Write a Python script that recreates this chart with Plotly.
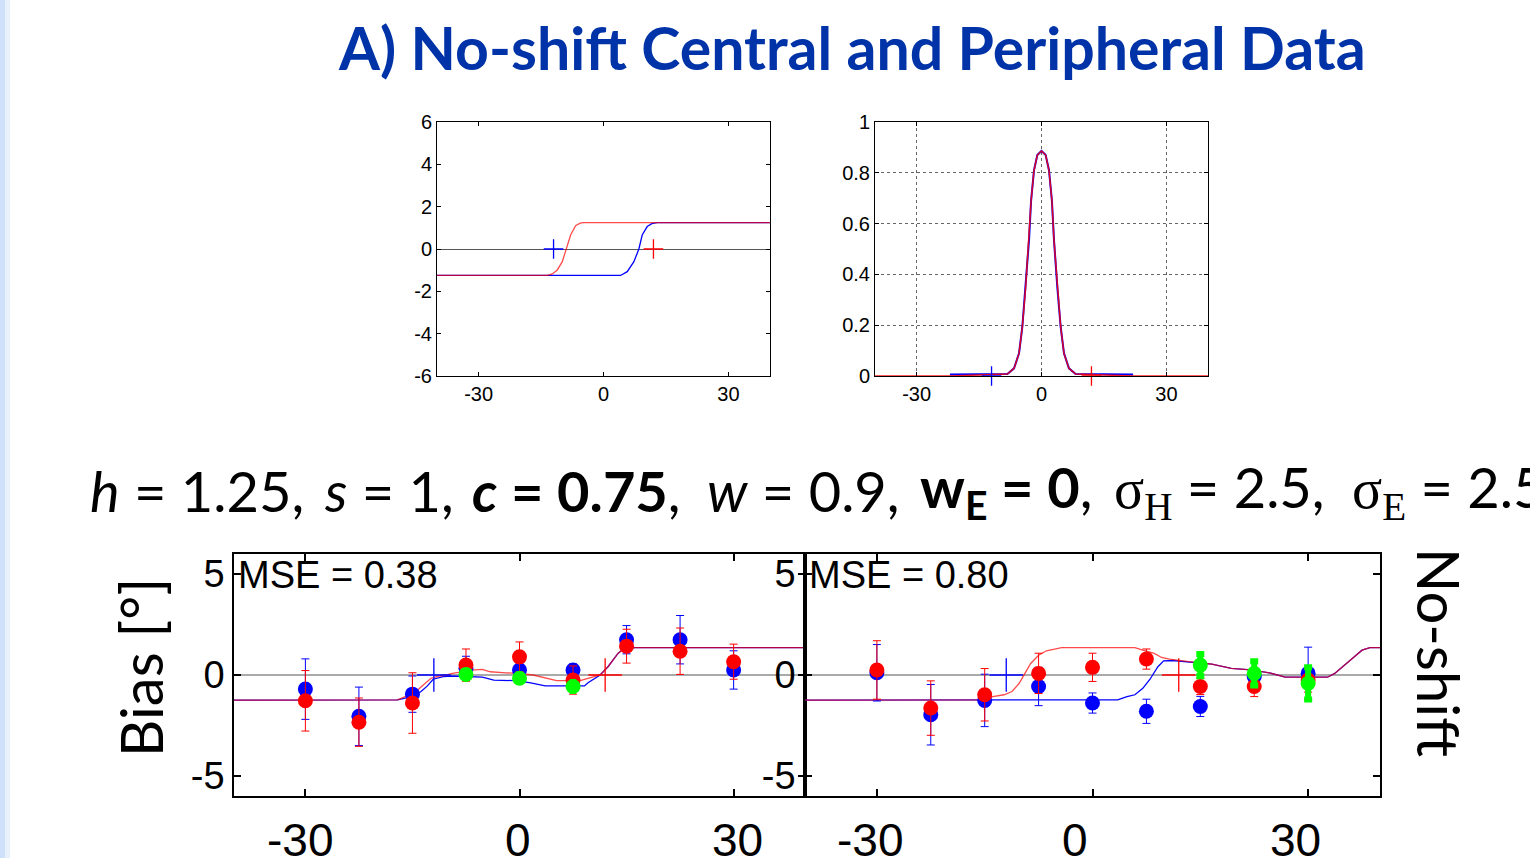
import plotly.graph_objects as go

W, H = 1530, 858

# ---------------- data ----------------
# top-left: model bias curves
tl_red_x = [-40, -13.5, -12.3, -11.1, -9.9, -9.0, -7.9, -6.7, -5.6, -4.8, 40]
tl_red_y = [-1.25, -1.25, -1.18, -0.99, -0.6, 0.0, 0.66, 1.1, 1.22, 1.25, 1.25]
tl_blue_x = [-40, 4.1, 5.7, 7.3, 8.5, 9.3, 10.5, 11.6, 12.9, 40]
tl_blue_y = [-1.25, -1.25, -1.07, -0.6, 0.0, 0.66, 1.06, 1.2, 1.25, 1.25]

# top-right: weighting curves
tr_red_x = [-40, -22, -8.2, -6.6, -5.4, -4.6, -3.8, -3.0, -2.5, -1.8, -1.0, 0,
            1.0, 1.8, 2.5, 3.0, 3.8, 4.6, 5.4, 6.6, 8.2, 22, 40]
tr_red_y = [0.0, 0.0, 0.008, 0.03, 0.089, 0.194, 0.35, 0.535, 0.69, 0.81, 0.87, 0.886,
            0.87, 0.81, 0.69, 0.535, 0.35, 0.194, 0.089, 0.03, 0.008, 0.0, 0.0]
tr_blue_x = [-22, -8.2, -6.6, -5.4, -4.6, -3.8, -3.0, -2.5, -1.8, -1.0, 0,
             1.0, 1.8, 2.5, 3.0, 3.8, 4.6, 5.4, 6.6, 8.2, 22]
tr_blue_y = [0.006, 0.008, 0.03, 0.089, 0.194, 0.35, 0.535, 0.69, 0.81, 0.87, 0.886,
             0.87, 0.81, 0.69, 0.535, 0.35, 0.194, 0.089, 0.03, 0.008, 0.006]

ref_marks_x = [-12, 12]

targets = [-30, -22.5, -15, -7.5, 0, 7.5, 15, 22.5, 30]

# bottom-left: central + peripheral data
bl_blue = [-0.70, -2.05, -0.95, 0.33, 0.25, 0.25, 1.75, 1.75, 0.25]
bl_blue_err = [1.5, 1.45, 0.9, 0.6, 0.3, 0.3, 0.7, 1.2, 0.95]
bl_red = [-1.28, -2.34, -1.39, 0.49, 0.90, -0.25, 1.43, 1.18, 0.66]
bl_red_err = [1.5, 1.2, 1.5, 0.8, 0.74, 0.7, 0.84, 1.15, 0.87]
bl_green_x = [-7.5, 0, 7.5]
bl_green = [0.03, -0.16, -0.57]
bl_green_err = [0.15, 0.15, 0.3]

bl_mred_x = [-40, -17.1, -16, -14.9, -14, -13.2, -12.4, -11.3, -10.2, -9.4, -8, -6.3, -5.2,
             -4.1, -1.9, -0.3, 1.9, 3.6, 5.2, 8.5, 9.6, 11.3, 12.4, 13.8, 14.6, 16.2, 40]
bl_mred_y = [-1.25, -1.23, -1.07, -0.98, -0.66, -0.41, -0.16, -0.05, 0.0, 0.08, 0.16, 0.25, 0.28,
             0.16, 0.11, 0.08, 0.0, -0.16, -0.28, -0.28, -0.16, 0.0, 0.41, 1.07, 1.31, 1.36, 1.36]
bl_mblue_x = [-40, -17.1, -16, -14.9, -13.8, -12.9, -12.1, -10.7, -9.6, -7.4, -5.2, -3.6, -0.8,
              1.4, 3.6, 9.1, 9.6, 11.3, 12.4, 13.8, 14.6, 16.2, 40]
bl_mblue_y = [-1.25, -1.23, -1.15, -1.07, -0.82, -0.54, -0.21, -0.08, -0.05, -0.08, -0.11, -0.25, -0.28,
              -0.38, -0.54, -0.54, -0.38, 0.0, 0.41, 1.07, 1.31, 1.36, 1.36]

# bottom-right: data
br_blue = [0.11, -1.97, -1.26, -0.57, -1.39, -1.80, -1.56, -0.08, 0.08]
br_blue_err = [1.4, 1.5, 1.3, 0.95, 0.5, 0.6, 0.5, 0.3, 1.3]
br_red = [0.25, -1.64, -0.98, 0.08, 0.38, 0.79, -0.57, -0.57, -0.25]
br_red_err = [1.45, 1.35, 1.3, 1.0, 0.7, 0.5, 0.4, 0.5, 0.6]
br_green_x = [15, 22.5, 30]
br_green = [0.49, 0.08, -0.41]
br_green_err = [0.55, 0.6, 0.8]

br_mred_x = [-40, -15.1, -13.9, -12.3, -11.2, -10.2, -9.4, -8.6, -7.5, -6.4, -4.3, 5.9, 7.0, 8.6, 9.6,
             10.7, 13.4, 16.6, 19.3, 22, 24.6, 26.8, 32.7, 33.7, 35.9, 37.5, 38.6, 40]
br_mred_y = [-1.25, -1.23, -1.07, -0.98, -0.82, -0.41, 0.08, 0.57, 0.98, 1.2, 1.36, 1.36, 1.23, 1.07, 0.87,
             0.79, 0.66, 0.54, 0.33, 0.25, 0.11, -0.11, -0.11, 0.08, 0.74, 1.23, 1.36, 1.36]
br_mblue_x = [-40, 3.5, 4.8, 5.9, 7.0, 8.0, 9.1, 9.9, 11.2, 13.4, 16.6, 19.3, 22, 24.6, 26.8,
              32.7, 33.7, 35.9, 37.5, 38.6, 40]
br_mblue_y = [-1.25, -1.23, -1.07, -0.98, -0.66, -0.21, 0.41, 0.7, 0.72, 0.66, 0.54, 0.33, 0.25, 0.11, -0.11,
              -0.11, 0.08, 0.74, 1.23, 1.36, 1.36]

x_ticks = [-30, 0, 30]
x_ticktext = ["-30", "0", "30"]
tl_yticks = [-6, -4, -2, 0, 2, 4, 6]
tl_yticktext = ["-6", "-4", "-2", "0", "2", "4", "6"]
tr_yticks = [0, 0.2, 0.4, 0.6, 0.8, 1]
tr_yticktext = ["0", "0.2", "0.4", "0.6", "0.8", "1"]
b_yticks = [-5, 0, 5]
b_yticktext = ["-5", "0", "5"]
# bottom x labels were placed as separate slide text (pixel x positions)
bottom_xlabels = ["-30", "0", "30", "-30", "0", "30"]
bottom_xlabel_px = [300, 518, 737, 870, 1075, 1295]

mse_left = "MSE = 0.38"
mse_right = "MSE = 0.80"

BLUE = "#0000FF"
RED = "#FF0000"
GREEN = "#00FF00"
SANS = "Liberation Sans, Arial, sans-serif"
CAL = "Lato, sans-serif"

fig = go.Figure()


def px_x(p):
    return p / W


def px_y(p):
    return 1 - p / H


def line(x, y, color, xa, ya, width=1.3, opacity=1.0):
    fig.add_trace(go.Scatter(x=x, y=y, mode="lines", xaxis=xa, yaxis=ya,
                             line=dict(color=color, width=width), opacity=opacity,
                             showlegend=False, hoverinfo="skip"))


def crosses(color, xa, ya, size):
    idx = 0 if color == BLUE else 1
    fig.add_trace(go.Scatter(x=[ref_marks_x[idx]], y=[0], mode="markers", xaxis=xa, yaxis=ya,
                             marker=dict(symbol="cross-thin", size=size,
                                         line=dict(color=color, width=1.3)),
                             cliponaxis=False, showlegend=False, hoverinfo="skip"))


def pts(x, y, err, color, xa, ya, thick=1, capw=4):
    fig.add_trace(go.Scatter(x=x, y=y, mode="markers", xaxis=xa, yaxis=ya,
                             marker=dict(color=color, size=15, line=dict(width=0)),
                             error_y=dict(type="data", array=err, color=color,
                                          thickness=thick, width=capw),
                             showlegend=False, hoverinfo="skip"))


# top-left
line(tl_blue_x, tl_blue_y, BLUE, "x", "y")
line(tl_red_x, tl_red_y, RED, "x", "y", opacity=0.7)
crosses(BLUE, "x", "y", 14)
crosses(RED, "x", "y", 14)

# top-right
line(tr_blue_x, tr_blue_y, BLUE, "x2", "y2", width=2)
line(tr_red_x, tr_red_y, RED, "x2", "y2", width=1.5, opacity=0.85)
crosses(BLUE, "x2", "y2", 14)
crosses(RED, "x2", "y2", 14)

# bottom-left
line(bl_mblue_x, bl_mblue_y, BLUE, "x3", "y3")
line(bl_mred_x, bl_mred_y, RED, "x3", "y3", opacity=0.7)
crosses(BLUE, "x3", "y3", 24)
crosses(RED, "x3", "y3", 24)
pts(targets, bl_blue, bl_blue_err, BLUE, "x3", "y3")
pts(targets, bl_red, bl_red_err, RED, "x3", "y3")
pts(bl_green_x, bl_green, bl_green_err, GREEN, "x3", "y3", thick=3, capw=3)

# bottom-right
line(br_mblue_x, br_mblue_y, BLUE, "x4", "y4")
line(br_mred_x, br_mred_y, RED, "x4", "y4", opacity=0.7)
crosses(BLUE, "x4", "y4", 24)
crosses(RED, "x4", "y4", 24)
pts(targets, br_blue, br_blue_err, BLUE, "x4", "y4")
pts(targets, br_red, br_red_err, RED, "x4", "y4")
pts(br_green_x, br_green, br_green_err, GREEN, "x4", "y4", thick=6, capw=4)


def ax(domain, rng, tickvals, ticktext, size, ticklen=4, tw=1, lw=1, **kw):
    d = dict(domain=domain, range=rng, tickmode="array", tickvals=tickvals, ticktext=ticktext,
             showline=True, linecolor="black", linewidth=lw, mirror="ticks",
             ticks="inside", ticklen=ticklen, tickwidth=tw, tickcolor="black",
             showgrid=False, zeroline=False, automargin=False, fixedrange=True,
             tickfont=dict(family=SANS, size=size, color="black"))
    d.update(kw)
    return d


top_y = [px_y(376), px_y(122)]
bot_y = [px_y(796), px_y(554)]
GRID = dict(showgrid=True, gridcolor="#666666", griddash="dot", gridwidth=1)

fig.update_layout(
    width=W, height=H, autosize=False,
    margin=dict(l=0, r=0, t=0, b=0),
    paper_bgcolor="white", plot_bgcolor="white",
    xaxis=ax([px_x(437), px_x(770)], [-40, 40], x_ticks, x_ticktext, 20, anchor="y",
             ticklabelstandoff=0),
    yaxis=ax(top_y, [-6, 6], tl_yticks, tl_yticktext, 20, anchor="x",
             zeroline=True, zerolinecolor="#555555", zerolinewidth=1),
    xaxis2=ax([px_x(875), px_x(1208)], [-40, 40], x_ticks, x_ticktext, 20, anchor="y2",
              ticklabelstandoff=0, **GRID),
    yaxis2=ax(top_y, [0, 1], tr_yticks, tr_yticktext, 20, anchor="x2", **GRID),
    xaxis3=ax([px_x(234), px_x(805)], [-40, 40], x_ticks, x_ticktext, 46, ticklen=7, tw=2, lw=1.5,
              anchor="y3", showticklabels=False),
    yaxis3=ax(bot_y, [-6, 6], b_yticks, b_yticktext, 38, ticklen=7, tw=2, lw=1.5, anchor="x3",
              zeroline=True, zerolinecolor="#AAAAAA", zerolinewidth=1.5),
    xaxis4=ax([px_x(805), px_x(1380)], [-40, 40], x_ticks, x_ticktext, 46, ticklen=7, tw=2, lw=1.5,
              anchor="y4", showticklabels=False),
    yaxis4=ax(bot_y, [-6, 6], b_yticks, b_yticktext, 38, ticklen=7, tw=2, lw=1.5, anchor="x4",
              zeroline=True, zerolinecolor="#AAAAAA", zerolinewidth=1.5),
)

# light blue slide edge
fig.add_shape(type="rect", xref="paper", yref="paper", x0=0, x1=px_x(5), y0=0, y1=1,
              fillcolor="#CFE0FA", line=dict(width=0), layer="below")
fig.add_shape(type="rect", xref="paper", yref="paper", x0=px_x(5), x1=px_x(10), y0=0, y1=1,
              fillcolor="#E8F0FC", line=dict(width=0), layer="below")

ann = []


def note(text, xp, yp, size, family=CAL, color="black", xanchor="left", angle=0):
    ann.append(dict(text=text, x=px_x(xp), y=px_y(yp), xref="paper", yref="paper",
                    xanchor=xanchor, yanchor="middle", textangle=angle, showarrow=False,
                    font=dict(family=family, size=size, color=color)))


note("<b>A) No-shift Central and Peripheral Data</b>", 852, 48, 59, color="#0033A8",
     xanchor="center")

param_segments = [
    (88, "<i>h</i> = 1.25, "),
    (322, "<i>s</i> = 1, "),
    (470, "<b><i>c</i> = 0.75</b>, "),
    (705, "<i>w</i> = 0.9, "),
    (918, "<b>w<sub>E</sub> = 0</b>, "),
    (1112, "<span style='font-family:Liberation Serif'>σ<sub>H</sub></span> = 2.5, "),
    (1350, "<span style='font-family:Liberation Serif'>σ<sub>E</sub></span> = 2.5"),
]
for xp, t in param_segments:
    note(t, xp, 490, 56)

note("Bias [°]", 140, 668, 58, xanchor="center", angle=-90)
note("No-shift", 1440, 652, 58, xanchor="center", angle=90)
note(mse_left, 236, 575, 38, family=SANS)
note(mse_right, 807, 575, 38, family=SANS)
for t, xp in zip(bottom_xlabels, bottom_xlabel_px):
    note(t, xp, 840, 46, family=SANS, xanchor="center")
fig.update_layout(annotations=ann)

fig.write_html("out.html", config={"displayModeBar": False},
               post_script="document.body.style.margin='0px';")
